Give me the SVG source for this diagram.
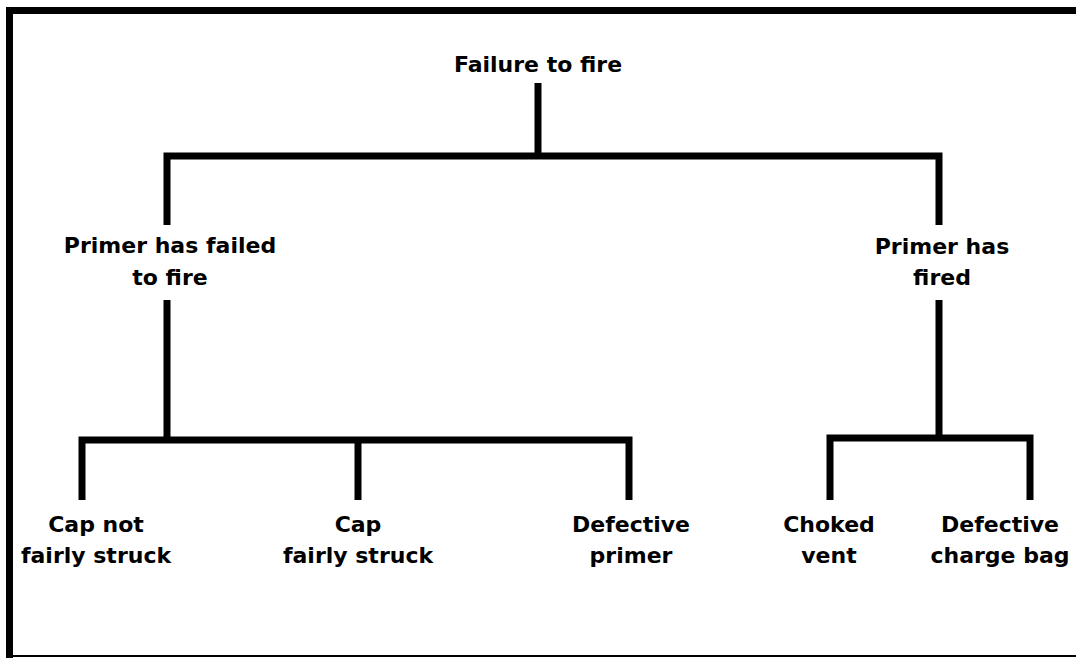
<svg xmlns="http://www.w3.org/2000/svg" width="1076" height="658" viewBox="0 0 1076 658">
<style>
.t{font-family:"DejaVu Sans",sans-serif;font-weight:bold;font-size:22px;fill:#000;text-anchor:middle}
.c{stroke:#000;stroke-width:7;fill:none;stroke-linejoin:miter}
</style>
<rect width="1076" height="658" fill="#fff"/>
<g id="frame" fill="#000">
<rect x="6" y="7" width="1070" height="7"/>
<rect x="6" y="7" width="7" height="651"/>
<rect x="6" y="655" width="1070" height="2"/>
</g>
<g id="connectors" class="c">
<path d="M538 83V156"/>
<path d="M167 225V156H939V225"/>
<path d="M167 300V440"/>
<path d="M82 500V440H629V500"/>
<path d="M358 440V500"/>
<path d="M939 300V438"/>
<path d="M830 500V438H1030V500"/>
</g>
<g id="n-root"><text class="t" x="538" y="72">Failure to fire</text></g>
<g id="n-failed"><text class="t" x="170" y="253">Primer has failed</text><text class="t" x="170" y="285">to fire</text></g>
<g id="n-fired"><text class="t" x="942" y="254">Primer has</text><text class="t" x="942" y="285">fired</text></g>
<g id="n-capnot"><text class="t" x="96" y="532">Cap not</text><text class="t" x="96" y="563">fairly struck</text></g>
<g id="n-cap"><text class="t" x="358" y="532">Cap</text><text class="t" x="358" y="563">fairly struck</text></g>
<g id="n-primer"><text class="t" x="631" y="532">Defective</text><text class="t" x="631" y="563">primer</text></g>
<g id="n-choked"><text class="t" x="829" y="532">Choked</text><text class="t" x="829" y="563">vent</text></g>
<g id="n-bag"><text class="t" x="1000" y="532">Defective</text><text class="t" x="1000" y="563">charge bag</text></g>
</svg>
